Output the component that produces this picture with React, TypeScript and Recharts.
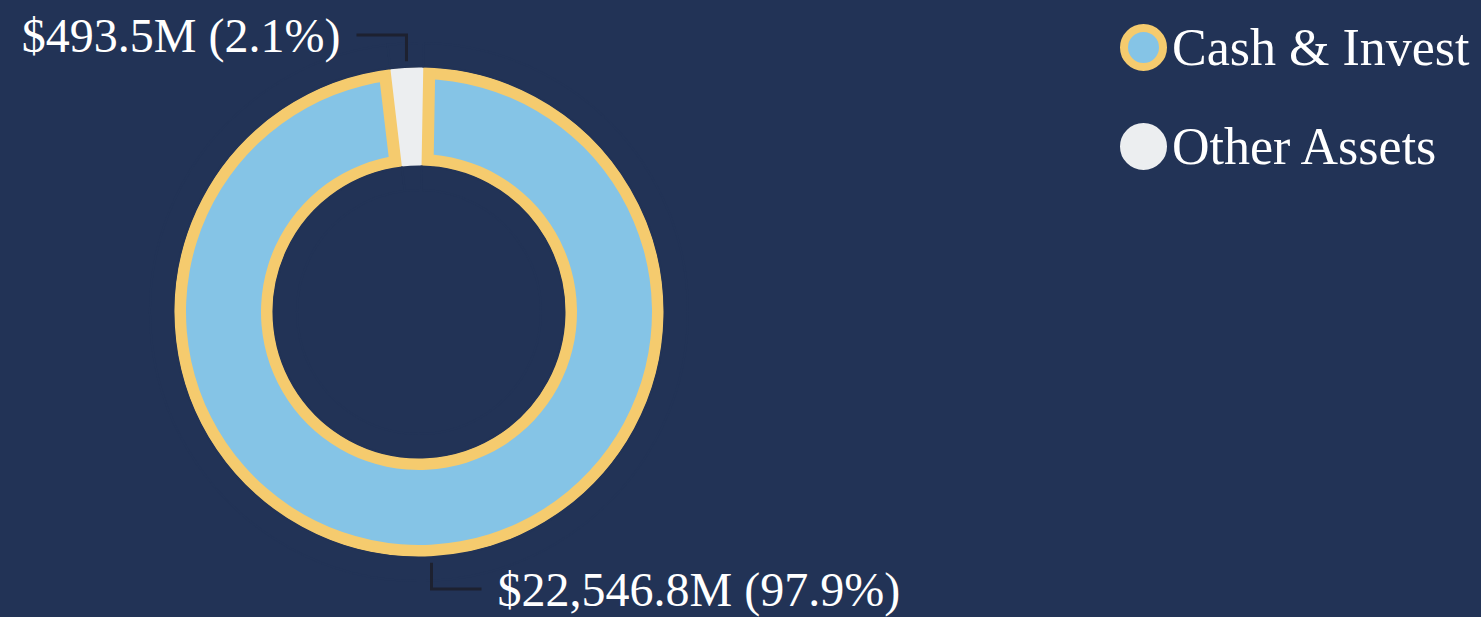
import { PieChart, Pie, Cell, Legend } from 'recharts';

const categories = ['Cash & Invest', 'Other Assets'];
const values = [22546.8, 493.5];
const fills = ['#85c4e6', '#eceef0'];
const borders = ['#f5cb6e', null]; // only the big slice gets the inner yellow border

const BG = '#223356';
const FONT = '"Liberation Serif", "Times New Roman", serif';
const RADIAN = Math.PI / 180;

const CX = 419;
const CY = 312;
const OUTER = 245;
const INNER = 146;
const BORDER = 12;

const pieData = categories.map((name, i) => ({ name, value: values[i] }));

const fmt = (v: number) =>
  v.toLocaleString('en-US', { minimumFractionDigits: 1, maximumFractionDigits: 1 });

const renderLabel = (props: any) => {
  const { cx, cy, midAngle, value, percent } = props;
  const cos = Math.cos(-midAngle * RADIAN);
  const sin = Math.sin(-midAngle * RADIAN);
  const x1 = cx + (OUTER + 6) * cos;
  const y1 = cy + (OUTER + 6) * sin;
  const y2 = cy + (OUTER + 32) * (sin < 0 ? -1 : 1);
  const dir = cos >= 0 ? 1 : -1;
  const x3 = x1 + dir * 50;
  return (
    <g>
      <polyline
        points={`${x1},${y1} ${x1},${y2} ${x3},${y2}`}
        fill="none"
        stroke="#1d2130"
        strokeWidth={3}
      />
      <text
        x={x3 + dir * 16}
        y={y2}
        textAnchor={dir > 0 ? 'start' : 'end'}
        dominantBaseline="central"
        fill="#ffffff"
        fontSize={48}
        fontFamily={FONT}
      >
        {`$${fmt(value)}M (${(percent * 100).toFixed(1)}%)`}
      </text>
    </g>
  );
};

const renderLegend = () => (
  <div style={{ display: 'flex', flexDirection: 'column', gap: 52 }}>
    {categories.map((name, i) => (
      <div key={name} style={{ display: 'flex', alignItems: 'center', height: 47 }}>
        <svg width={47} height={47} style={{ marginRight: 5 }}>
          <circle
            cx={23.5}
            cy={23.5}
            r={19.5}
            fill={fills[i]}
            stroke={borders[i] ?? fills[i]}
            strokeWidth={8}
          />
        </svg>
        <span style={{ color: '#ffffff', fontSize: 52, fontFamily: FONT, lineHeight: '47px' }}>
          {name}
        </span>
      </div>
    ))}
  </div>
);

// one ring layer of the donut; the inner-aligned border is built from stacked layers
const layer = (
  key: string,
  outer: number,
  inner: number,
  fillOf: (i: number) => string,
  strokeOf: (i: number) => string = () => 'none',
  strokeWidth = 0,
  label: any = false
) => (
  <Pie
    key={key}
    data={pieData}
    dataKey="value"
    nameKey="name"
    cx={CX}
    cy={CY}
    outerRadius={outer}
    innerRadius={inner}
    startAngle={449}
    endAngle={89}
    strokeWidth={strokeWidth}
    label={label}
    labelLine={false}
    legendType="none"
    isAnimationActive={false}
  >
    {pieData.map((d, i) => (
      <Cell key={d.name} fill={fillOf(i)} stroke={strokeOf(i)} />
    ))}
  </Pie>
);

export default function App() {
  return (
    <div
      style={{
        position: 'absolute',
        left: 0,
        top: 0,
        width: 1481,
        height: 617,
        background: BG,
        overflow: 'hidden',
      }}
    >
      <PieChart width={1481} height={617} margin={{ top: 0, right: 0, bottom: 0, left: 0 }}>
        {layer('base', OUTER, INNER, (i) => borders[i] ?? fills[i])}
        {layer('body', OUTER - BORDER, INNER + BORDER, (i) => (borders[i] ? fills[i] : 'none'))}
        {layer(
          'edge',
          OUTER,
          INNER,
          (i) => (borders[i] ? 'none' : fills[i]),
          (i) => (borders[i] ? 'none' : (borders[0] as string)),
          BORDER * 2
        )}
        {layer('cap', OUTER, INNER, (i) => (borders[i] ? 'none' : fills[i]))}
        {layer('coverIn', INNER - 0.5, INNER - 24, () => BG, () => BG, 2)}
        {layer('coverOut', OUTER + 24, OUTER + 0.5, () => BG, () => BG, 2, renderLabel)}
        <Legend
          content={renderLegend}
          wrapperStyle={{ position: 'absolute', left: 1120, top: 24, width: 361 }}
        />
      </PieChart>
    </div>
  );
}
